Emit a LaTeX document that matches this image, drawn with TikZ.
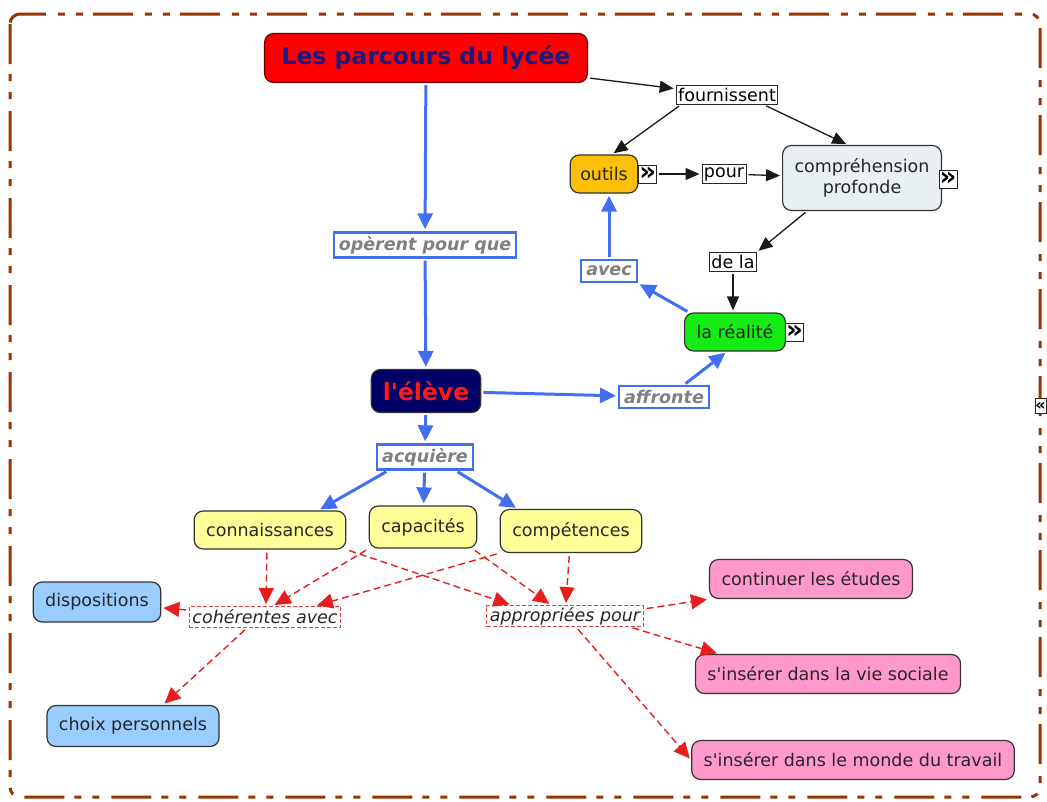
\documentclass[tikz,border=0pt]{standalone}
\usepackage{fontspec}
\setmainfont{DejaVu Sans}[Ligatures=TeXOff]
\usepackage{xcolor}
\usepackage{tikz}
\usetikzlibrary{shapes, arrows.meta, positioning}

\definecolor{framebrown}{RGB}{153,51,0}
\definecolor{linkblue}{RGB}{64,112,240}
\definecolor{linkred}{RGB}{232,30,30}
\definecolor{boxred}{RGB}{214,70,70}
\definecolor{titlenavy}{RGB}{26,26,128}
\definecolor{elevenavy}{RGB}{0,0,102}
\definecolor{outilsorange}{RGB}{252,192,10}
\definecolor{comprgray}{RGB}{233,240,243}
\definecolor{realitegreen}{RGB}{20,236,20}
\definecolor{acquisyellow}{RGB}{255,255,153}
\definecolor{choixblue}{RGB}{153,204,255}
\definecolor{butpink}{RGB}{255,153,204}

\begin{document}
\begin{tikzpicture}[x=1pt, y=-1pt,
        concept/.style={draw=black!80, line width=1.2pt, rounded corners=9pt, minimum height=38pt, inner xsep=12pt, text=black!85, font=\fontsize{17.5}{21}\selectfont},
        linkbox/.style={draw=black!85, line width=0.9pt, fill=white, inner xsep=2pt, inner ysep=1pt, minimum height=19pt, font=\fontsize{17.5}{21}\selectfont},
        bluelink/.style={draw=linkblue, line width=2.4pt, fill=white, inner xsep=5pt, inner ysep=1pt, minimum height=22pt, text=black!50, font=\fontsize{17.5}{21}\selectfont\bfseries\itshape},
        redlink/.style={draw=boxred, line width=0.9pt, dash pattern=on 4pt off 2pt, fill=white, inner xsep=3pt, inner ysep=1pt, minimum height=21pt, text=black!85, font=\fontsize{17.5}{21}\selectfont\itshape},
        iconbox/.style={draw=black!85, line width=1pt, fill=white, minimum width=18pt, minimum height=18pt, inner sep=0pt, font=\fontsize{26}{26}\selectfont\bfseries},
        blackarrow/.style={-{Triangle[length=14pt, width=12pt]}, line width=1.3pt, draw=black!90, shorten <=2pt, shorten >=2pt},
        bluearrow/.style={-{Triangle[length=16pt, width=15pt]}, line width=3pt, draw=linkblue, shorten <=2pt, shorten >=2pt},
        redarrow/.style={-{Triangle[length=16pt, width=15pt]}, line width=1.4pt, dash pattern=on 7pt off 4pt, draw=linkred, shorten <=3pt, shorten >=2pt}
    ]
        \useasboundingbox (0,0) rectangle (1047,801);
        \draw[framebrown, line width=3pt, rounded corners=10pt, dash pattern=on 40pt off 10pt on 7pt off 11pt on 7pt off 12pt] (10,14) rectangle (1040,797);

        \node[concept, fill=red, draw=red!40!black, minimum height=49pt, inner xsep=17pt, text=titlenavy, font=\fontsize{23.5}{26}\selectfont\bfseries] (parcours) at (426,58) {Les parcours du lycée};
        \node[linkbox] (fournissent) at (727,95) {fournissent};
        \node[concept, fill=outilsorange, inner xsep=10pt] (outils) at (604,174) {outils};
        \node[iconbox, anchor=west] (outilsicon) at (outils.east) {»};
        \node[linkbox] (pour) at (724,174) {pour};
        \node[concept, fill=comprgray, minimum height=65pt, inner xsep=12pt, align=center] (comprehension) at (862,178) {compréhension\\profonde};
        \node[iconbox] (comprehensionicon) at (948,179) {»};
        \node[linkbox] (dela) at (733,262) {de la};
        \node[concept, fill=realitegreen] (realite) at (735,332) {la réalité};
        \node[iconbox, anchor=west] (realiteicon) at ([xshift=-1pt]realite.east) {»};
        \node[bluelink] (avec) at (609,271) {avec};

        \node[bluelink, minimum height=25pt] (operent) at (425,245) {opèrent pour que};
        \node[concept, fill=elevenavy, minimum height=43pt, inner xsep=11.5pt, text=red!90!white, font=\fontsize{23.5}{26}\selectfont\bfseries] (eleve) at (426,391) {l'élève};
        \node[bluelink] (affronte) at (664,397) {affronte};
        \node[bluelink, minimum height=25pt] (acquiere) at (425,457) {acquière};

        \node[concept, fill=acquisyellow] (connaissances) at (270,530) {connaissances};
        \node[concept, fill=acquisyellow, minimum height=42pt] (capacites) at (423,527) {capacités};
        \node[concept, fill=acquisyellow, minimum height=43pt] (competences) at (571,531) {compétences};

        \node[redlink] (coherentes) at (265,617) {cohérentes avec};
        \node[redlink] (appropriees) at (565,616) {appropriées pour};

        \node[concept, fill=choixblue, minimum height=40pt] (dispositions) at (97,602) {dispositions};
        \node[concept, fill=choixblue, minimum height=41pt] (choix) at (133,726) {choix personnels};

        \node[concept, fill=butpink, minimum height=39pt] (etudes) at (811,579) {continuer les études};
        \node[concept, fill=butpink, minimum height=39pt] (sociale) at (828,674) {s'insérer dans la vie sociale};
        \node[concept, fill=butpink, minimum height=39pt] (travail) at (853,760) {s'insérer dans le monde du travail};

        \node[iconbox, minimum width=11pt, minimum height=15pt, font=\fontsize{16}{16}\selectfont\bfseries] (bordicon) at (1040.5,406) {«};

        \draw[blackarrow] (parcours) -- (fournissent);
        \draw[blackarrow] ([xshift=5pt]fournissent.south west) -- ([xshift=8pt]outils.north);
        \draw[blackarrow] ([xshift=-14pt]fournissent.south east) -- ([xshift=-14pt]comprehension.north);
        \draw[blackarrow] (outilsicon) -- (pour);
        \draw[blackarrow] (pour) -- (comprehension);
        \draw[blackarrow] ([xshift=-55pt]comprehension.south) -- (dela.north east);
        \draw[blackarrow] (dela) -- (dela |- realite.north);

        \draw[bluearrow] (parcours) -- (operent);
        \draw[bluearrow] (operent) -- (eleve);
        \draw[bluearrow] (eleve) -- (affronte);
        \draw[bluearrow] ([xshift=20pt]affronte.north) -- ([xshift=-8pt]realite.south);
        \draw[bluearrow] ([xshift=5pt]realite.north west) -- (avec.south east);
        \draw[bluearrow] (avec) -- (avec |- outils.south);
        \draw[bluearrow] (eleve) -- (acquiere);
        \draw[bluearrow] ([xshift=12pt]acquiere.south west) -- ([xshift=-28pt]connaissances.north east);
        \draw[bluearrow] (acquiere) -- (capacites);
        \draw[bluearrow] ([xshift=-18pt]acquiere.south east) -- ([xshift=18pt]competences.north west);

        \draw[redarrow] ([xshift=-3pt]connaissances.south) -- ([xshift=1pt]coherentes.north);
        \draw[redarrow] (capacites.south west) -- ([xshift=8pt]coherentes.north);
        \draw[redarrow] (competences.south west) -- ([xshift=50pt]coherentes.north);
        \draw[redarrow] (connaissances.south east) -- ([xshift=25pt]appropriees.north west);
        \draw[redarrow] ([xshift=-5pt]capacites.south east) -- ([xshift=-14pt]appropriees.north);
        \draw[redarrow] (competences) -- (appropriees);
        \draw[redarrow] (coherentes) -- (dispositions);
        \draw[redarrow] ([xshift=-18pt]coherentes.south) -- ([xshift=30pt]choix.north);
        \draw[redarrow] ([yshift=7pt]appropriees.east) -- (etudes.south west);
        \draw[redarrow] ([xshift=-14pt]appropriees.south east) -- ([xshift=24pt]sociale.north west);
        \draw[redarrow] ([xshift=11pt]appropriees.south) -- (travail.west);
    \end{tikzpicture}
\end{document}
